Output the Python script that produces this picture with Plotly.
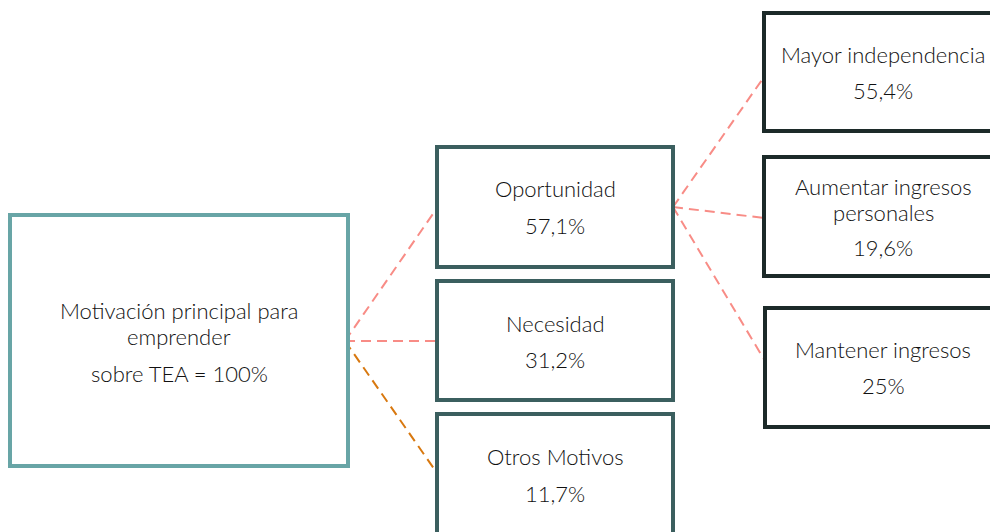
import plotly.graph_objects as go

# Data
root_label = ["Motivación principal para", "emprender", "sobre TEA = 100%"]
level1_labels = ["Oportunidad", "Necesidad", "Otros Motivos"]
level1_values = ["57,1%", "31,2%", "11,7%"]
level2_labels = [["Mayor independencia"], ["Aumentar ingresos", "personales"], ["Mantener ingresos"]]
level2_values = ["55,4%", "19,6%", "25%"]

# Layout (pixel coordinates on a 990x532 canvas)
root_box = (10, 215, 348, 466)
l1_boxes = [(437, 147, 673, 267), (437, 281, 673, 400), (437, 414, 673, 540)]
l2_boxes = [(764, 13, 1000, 131), (764, 157, 1000, 276), (765, 308, 1000, 427)]

C_ROOT = "#68a5a6"
C_L1 = "#3b5f5f"
C_L2 = "#1c2a29"
C_PINK = "#f88c86"
C_ORANGE = "#d8780f"
FONT = "Lato"
TXT = "#111111"

fig = go.Figure()
shapes = []
annotations = []

def box(b, color):
    shapes.append(dict(type="rect", x0=b[0], y0=b[1], x1=b[2], y1=b[3],
                       line=dict(color=color, width=4), fillcolor="white",
                       xref="x", yref="y", layer="above"))

def line(p0, p1, color):
    shapes.append(dict(type="line", x0=p0[0], y0=p0[1], x1=p1[0], y1=p1[1],
                       line=dict(color=color, width=2, dash="10px,6px"),
                       xref="x", yref="y", layer="below"))

def text(x, y, s):
    annotations.append(dict(x=x, y=y, text=s, showarrow=False, xref="x", yref="y",
                            font=dict(family=FONT, size=22, color=TXT, weight=300),
                            xanchor="center", yanchor="middle"))

# connectors
root_pt = (345, 341)
line(root_pt, (437, 208), C_PINK)
line(root_pt, (437, 341), C_PINK)
line(root_pt, (437, 473), C_ORANGE)
op_pt = (673, 207)
line(op_pt, (764, 77), C_PINK)
line(op_pt, (764, 218), C_PINK)
line(op_pt, (765, 361), C_PINK)

# boxes
box(root_box, C_ROOT)
for b in l1_boxes:
    box(b, C_L1)
for b in l2_boxes:
    box(b, C_L2)

# texts
text(179, 310, root_label[0])
text(179, 336, root_label[1])
text(179, 373, root_label[2])

l1_text_y = [(188, 225), (323, 359), (456, 493)]
for lab, val, (ya, yb) in zip(level1_labels, level1_values, l1_text_y):
    text(555, ya, lab)
    text(555, yb, val)

l2_text_y = [[54], [186, 212], [349]]
l2_val_y = [90, 247, 385]
for labs, val, ys, yv in zip(level2_labels, level2_values, l2_text_y, l2_val_y):
    for lab, y in zip(labs, ys):
        text(883, y, lab)
    text(883, yv, val)

fig.update_layout(
    width=990, height=532,
    margin=dict(l=0, r=0, t=0, b=0),
    paper_bgcolor="white", plot_bgcolor="white",
    xaxis=dict(range=[0, 990], visible=False, fixedrange=True),
    yaxis=dict(range=[532, 0], visible=False, fixedrange=True),
    shapes=shapes, annotations=annotations, showlegend=False,
)
fig.write_html("out.html", config={"displayModeBar": False},
               post_script="document.body.style.margin='0';document.body.style.overflow='hidden';")
